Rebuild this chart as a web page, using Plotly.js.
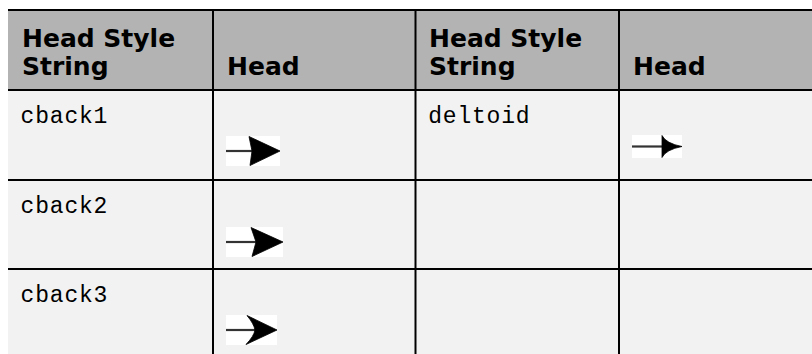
<!DOCTYPE html>
<html>
<head>
<meta charset="utf-8">
<script src="https://cdn.plot.ly/plotly-3.0.1.min.js"></script>
<style>
  html, body { margin: 0; padding: 0; background: #ffffff; }
  #chart { width: 812px; height: 354px; }
</style>
</head>
<body>
<div id="chart"></div>
<script>
// ---- Table content ----
const headerLines = [
  ['Head Style', 'String'],
  ['Head'],
  ['Head Style', 'String'],
  ['Head']
];
const styleNames = ['cback1', 'cback2', 'cback3', 'deltoid'];
const styleRow   = [0, 1, 2, 0];   // body row of each style
const styleGroup = [0, 0, 0, 1];   // column pair (0 = cols 1-2, 1 = cols 3-4)

// ---- Layout constants (pixel-unit axes) ----
const W = 812, H = 354;
const colEdges = [8, 213, 415.5, 619, 812];
const rowEdges = [10, 90, 180, 269, 354];   // header top, header bottom, row bottoms

// ---- Arrow glyph styles ----
const headStyles = {
  cback1:  { boxW: 54, boxH: 30, yOff: 61,   halfH: 14.5, back: 23, notch: 26, tip: 54, curve: 0, concave: 0 },
  cback2:  { boxW: 57, boxH: 30, yOff: 62,   halfH: 14.5, back: 25, notch: 30, tip: 57, curve: 0, concave: 0 },
  cback3:  { boxW: 51, boxH: 30, yOff: 61,   halfH: 14.5, back: 21, notch: 29, tip: 51, curve: 1, concave: 0 },
  deltoid: { boxW: 50, boxH: 23, yOff: 56.5, halfH: 11,   back: 30, notch: 30, tip: 50, curve: 0, concave: 1 }
};

const shapes = [];
const annotations = [];

// fills
shapes.push({ type: 'rect', xref: 'x', yref: 'y', x0: colEdges[0], x1: W + 10, y0: rowEdges[0], y1: rowEdges[1],
  fillcolor: '#b3b3b3', line: { width: 0 }, layer: 'below' });
shapes.push({ type: 'rect', xref: 'x', yref: 'y', x0: colEdges[0], x1: W + 10, y0: rowEdges[1], y1: H + 10,
  fillcolor: '#f2f2f2', line: { width: 0 }, layer: 'below' });

// horizontal rules
for (let r = 0; r < rowEdges.length - 1; r++) {
  shapes.push({ type: 'line', xref: 'x', yref: 'y', x0: colEdges[0], x1: W + 10, y0: rowEdges[r], y1: rowEdges[r],
    line: { color: '#000000', width: 2 } });
}
// vertical rules
for (let c = 1; c < colEdges.length - 1; c++) {
  shapes.push({ type: 'line', xref: 'x', yref: 'y', x0: colEdges[c], x1: colEdges[c], y0: rowEdges[0], y1: H + 10,
    line: { color: '#000000', width: 2 } });
}

// header text
const headFont = { family: 'DejaVu Sans', size: 25, color: '#000000', weight: 700 };
const lineMid = [38, 66.4];
headerLines.forEach((lines, c) => {
  const n = lines.length;
  lines.forEach((t, i) => {
    annotations.push({
      text: t, xref: 'x', yref: 'y', x: colEdges[c] + 11.5, y: lineMid[2 - n + i],
      xanchor: 'left', yanchor: 'middle', showarrow: false, font: headFont
    });
  });
});

// body text + arrows
const bodyFont = { family: 'Liberation Mono', size: 23, color: '#000000' };
styleNames.forEach((name, k) => {
  const r = styleRow[k];
  const cName = styleGroup[k] * 2;
  const cHead = cName + 1;
  const rowTop = rowEdges[r + 1];
  annotations.push({
    text: name, xref: 'x', yref: 'y', x: colEdges[cName] + 13, y: rowTop + 27,
    xanchor: 'left', yanchor: 'middle', showarrow: false, font: bodyFont
  });

  const s = headStyles[name];
  const x0 = colEdges[cHead] + 13;
  const yc = rowTop + s.yOff;
  // white image background
  shapes.push({ type: 'rect', xref: 'x', yref: 'y', x0: x0, x1: x0 + s.boxW, y0: yc - s.boxH / 2, y1: yc + s.boxH / 2,
    fillcolor: '#ffffff', line: { width: 0 } });
  // shaft
  shapes.push({ type: 'line', xref: 'x', yref: 'y', x0: x0, x1: x0 + s.notch, y0: yc, y1: yc,
    line: { color: '#333333', width: 2.2 } });
  // head
  const tX = x0 + s.tip, bX = x0 + s.back, nX = x0 + s.notch;
  const yT = yc - s.halfH, yB = yc + s.halfH;
  let p;
  if (s.concave) {
    p = `M${bX},${yT} Q${bX + 4},${yc - 3} ${tX},${yc} Q${bX + 4},${yc + 3} ${bX},${yB} Z`;
  } else if (s.curve) {
    p = `M${tX},${yc} L${bX},${yT} Q${bX + 7},${yc - 6} ${nX},${yc} Q${bX + 7},${yc + 6} ${bX - 1},${yB} Z`;
  } else {
    p = `M${tX},${yc} L${bX},${yT} L${nX},${yc} L${bX + 1},${yB} Z`;
  }
  shapes.push({ type: 'path', xref: 'x', yref: 'y', path: p, fillcolor: '#000000', line: { color: '#000000', width: 0.8 } });
});

const layout = {
  width: W, height: H,
  margin: { l: 0, r: 0, t: 0, b: 0, pad: 0 },
  paper_bgcolor: '#ffffff', plot_bgcolor: '#ffffff',
  showlegend: false,
  xaxis: { range: [0, W], visible: false, fixedrange: true },
  yaxis: { range: [H, 0], visible: false, fixedrange: true },
  shapes: shapes,
  annotations: annotations
};

Plotly.newPlot('chart', [{ type: 'scatter', x: [], y: [], hoverinfo: 'skip' }], layout,
  { staticPlot: true, displayModeBar: false }).then(() => {
  document.querySelectorAll('.annotation-text').forEach(t => {
    if (styleNames.indexOf(t.textContent) >= 0) t.style.letterSpacing = '0.8px';
  });
});
</script>
</body>
</html>
